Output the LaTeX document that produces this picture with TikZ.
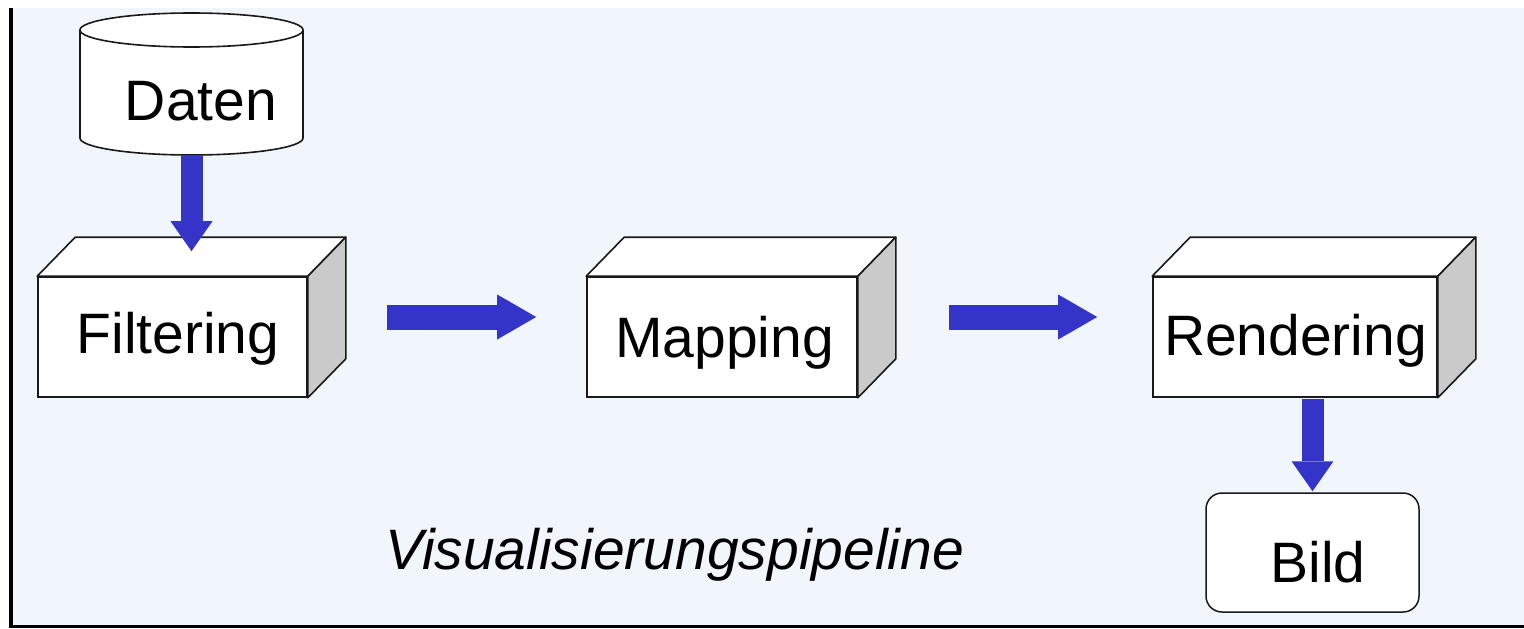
\documentclass[tikz,border=0pt]{standalone}
\usepackage{fontspec}
\setmainfont{Liberation Sans}
\usetikzlibrary{arrows.meta}
\definecolor{panelbg}{RGB}{240,246,252}
\definecolor{flowblue}{RGB}{52,52,200}
\definecolor{sidegray}{RGB}{202,202,202}
\definecolor{edgeline}{RGB}{25,25,25}

\begin{document}
\begin{tikzpicture}[x=1pt,y=-1pt,
  stage/.style={draw=edgeline, line width=1.6pt, fill=white, minimum height=120pt, inner sep=0pt},
  face/.style={draw=edgeline, line width=1.6pt, line join=round},
  caption/.style={anchor=base, inner sep=0pt, font=\fontsize{57}{68}\selectfont},
  flowv/.style={draw=flowblue, line width=22pt, -{Triangle[length=30pt,width=42pt,line width=0pt]}},
  flowh/.style={draw=flowblue, line width=25pt, -{Triangle[length=39pt,width=45pt,line width=0pt]}},
]
\useasboundingbox (0,0) rectangle (1524,629);

% panel
\fill[panelbg] (12,8) rectangle (1524,626);
\draw[line width=3.5pt] (11,8) -- (11,628);
\draw[line width=3pt] (9.25,626.5) -- (1524,626.5);

% data store (cylinder)
\node[minimum width=223pt, minimum height=142pt, inner sep=0pt] (daten) at (191.5,84) {};
\path[fill=white] (80,30) -- (80,138)
  arc[start angle=180, end angle=360, x radius=111.5pt, y radius=17pt] -- (303,30) -- cycle;
\draw[face] (80,30) -- (80,138)
  arc[start angle=180, end angle=360, x radius=111.5pt, y radius=17pt] -- (303,30);
\draw[face, fill=white] (191.5,30) ellipse [x radius=111.5pt, y radius=17pt];
\node[caption] (datenlabel) at (201,120) {Daten};

% pipeline stages (front faces)
\node[stage, minimum width=269pt] (filter) at (172.5,337) {};
\node[stage, minimum width=270pt] (map) at (722,337) {};
\node[stage, minimum width=284pt] (render) at (1295,337) {};

% top and side faces of each stage
\foreach \s in {filter,map,render}{
  \draw[face, fill=white] (\s.north west) -- ([shift={(38,-39)}]\s.north west)
    -- ([shift={(38,-39)}]\s.north east) -- (\s.north east) -- cycle;
  \draw[face, fill=sidegray] (\s.north east) -- ([shift={(38,-39)}]\s.north east)
    -- ([shift={(38,-39)}]\s.south east) -- (\s.south east) -- cycle;
}

\node[caption] (filterlabel) at (178,353) {Filtering};
\node[caption] (maplabel) at (724.5,357) {Mapping};
\node[caption] (renderlabel) at (1295.5,355) {Rendering};

% output image
\node[draw=edgeline, line width=1.5pt, fill=white, rounded corners=16pt,
  minimum width=213pt, minimum height=119pt] (bild) at (1312.5,552.5) {};
\node[caption] (bildlabel) at (1318,582) {Bild};

\node[caption, font=\fontsize{57}{68}\selectfont\itshape] (title) at (674.5,569) {Visualisierungspipeline};

% flow arrows
\draw[flowv, shorten >=25pt] (daten.south) -- (daten.south |- filter.north);
\draw[flowh, shorten <=79pt, shorten >=50pt] ([yshift=20pt]filter.east) -- ([yshift=20pt]map.west);
\draw[flowh, shorten <=91pt, shorten >=55pt] ([yshift=20pt]map.east) -- ([yshift=20pt]render.west);
\draw[flowv, shorten <=1pt, shorten >=1pt] (bild.north |- render.south) -- (bild.north);
\end{tikzpicture}
\end{document}
